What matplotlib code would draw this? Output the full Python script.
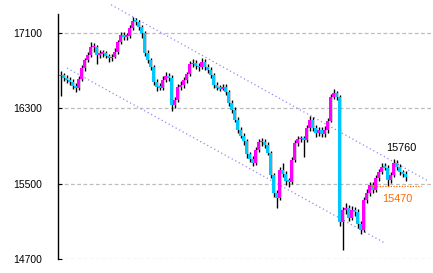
import matplotlib
matplotlib.use("Agg")
import matplotlib.pyplot as plt
import numpy as np

# ---- data ----
opens = [16640,16650,16620,16600,16580,16540,16520,16610,16730,16810,
         16870,16950,16950,16870,16880,16890,16860,16830,16850,16900,
         17000,17080,17060,17070,17150,17230,17220,17160,17100,16890,
         16810,16740,16580,16530,16520,16600,16640,16620,16340,16390,
         16530,16550,16600,16660,16770,16780,16750,16740,16790,16740,
         16710,16650,16550,16520,16510,16530,16470,16360,16280,16180,
         16070,16010,15950,15810,15760,15720,15860,15940,15940,15910,
         15830,15590,15400,15350,15640,15600,15530,15520,15750,15930,
         15970,15980,15960,16090,16180,16090,16040,16070,16030,16070,
         16170,16420,16460,16420,15090,15220,15240,15140,15220,15200,
         15070,15010,15330,15400,15490,15430,15560,15620,15680,15670,
         15540,15590,15720,15680,15620,15600]
closes = [16650,16620,16600,16580,16540,16520,16610,16730,16810,16870,
          16950,16950,16870,16880,16890,16860,16830,16850,16900,17000,
          17080,17060,17070,17150,17230,17220,17160,17100,16890,16810,
          16740,16580,16530,16520,16600,16640,16620,16340,16390,16530,
          16550,16600,16660,16770,16780,16750,16740,16790,16740,16710,
          16650,16550,16520,16510,16530,16470,16360,16280,16180,16070,
          16010,15950,15810,15760,15720,15860,15940,15940,15910,15830,
          15590,15400,15350,15640,15600,15530,15520,15750,15930,15970,
          15980,15960,16090,16180,16090,16040,16070,16030,16070,16170,
          16420,16460,16420,15090,15220,15240,15140,15220,15200,15070,
          15010,15330,15400,15490,15430,15560,15620,15680,15670,15540,
          15590,15720,15680,15620,15600,15570]
highs = [16700,16680,16650,16630,16610,16570,16640,16760,16840,16900,
         17000,16990,16970,16920,16920,16910,16880,16880,16940,17030,
         17110,17110,17100,17180,17270,17260,17240,17180,17120,16920,
         16840,16760,16610,16570,16640,16690,16680,16650,16420,16560,
         16590,16630,16690,16800,16820,16810,16780,16830,16820,16770,
         16740,16680,16580,16550,16560,16560,16490,16390,16310,16210,
         16100,16040,15970,15840,15790,15890,15970,15980,15970,15940,
         15850,15610,15430,15680,15720,15630,15560,15780,15960,16010,
         16010,16010,16120,16220,16210,16120,16100,16100,16110,16200,
         16450,16510,16480,16440,15250,15290,15270,15260,15250,15230,
         15100,15360,15440,15520,15520,15590,15660,15720,15720,15700,
         15620,15760,15750,15710,15650,15630]
lows = [16430,16590,16570,16550,16510,16470,16500,16590,16700,16790,
        16850,16900,16770,16840,16850,16830,16790,16800,16830,16880,
        16980,17030,17030,17050,17130,17190,17130,17050,16860,16780,
        16710,16550,16480,16490,16500,16580,16590,16270,16300,16370,
        16500,16520,16570,16640,16740,16720,16700,16720,16710,16680,
        16620,16520,16490,16480,16490,16440,16330,16250,16150,16040,
        15980,15910,15770,15730,15690,15700,15840,15900,15880,15800,
        15560,15360,15240,15330,15570,15490,15460,15500,15730,15900,
        15940,15780,15940,16060,16060,16000,16010,16000,16000,16040,
        16150,16400,16390,15050,14800,15180,15100,15110,15160,15030,
        14970,14990,15300,15370,15400,15410,15530,15600,15640,15470,
        15510,15570,15650,15590,15570,15530]

yticks = [14700, 15500, 16300, 17100]
ytick_labels = ["14700", "15500", "16300", "17100"]

# trend channel (candle index, price)
upper_x = [17.0, 122.6]
upper_y = [17400, 15530]
lower_x = [2.3, 108.3]
lower_y = [16728, 14869]

high_label = "15760"
low_label = "15470"
low_level = 15470

# ---- figure ----
W, H = 433, 273
fig = plt.figure(figsize=(W / 100, H / 100), dpi=100)
ax = fig.add_axes([58 / W, (H - 259) / H, 375 / W, 245 / H])

n = len(closes)
x = np.arange(n)
o = np.array(opens); c = np.array(closes)
hi = np.array(highs); lo = np.array(lows)

ax.vlines(x + 0.3, lo, hi, color="black", lw=1.0, zorder=2)
up = c >= o
bottom = np.minimum(o, c)
height = np.maximum(np.abs(c - o), 15)
cols = np.where(up, "#ff00ff", "#00c8ff")
ax.bar(x, height, bottom=bottom, width=0.95, color=cols, linewidth=0, zorder=3)

ax.plot(upper_x, upper_y, color="#8c8cf0", lw=0.9, linestyle=(0, (1, 2.2)),
        clip_on=False, zorder=1)
ax.plot(lower_x, lower_y, color="#8c8cf0", lw=0.9, linestyle=(0, (1, 2.2)),
        clip_on=False, zorder=1)

ax.plot([103.5, 120.3], [low_level, low_level], color="#ff6600", lw=0.9,
        linestyle=(0, (1, 1.2)), zorder=4)

ax.text(113.6, 15878, high_label, color="black", fontsize=7.8,
        family="Liberation Sans", ha="center", va="center")
ax.text(112.3, 15336, low_label, color="#ff6600", fontsize=7.8,
        family="Liberation Sans", ha="center", va="center")

ax.set_xlim(-0.7, -0.7 + 375 / 3)
ax.set_ylim(14700, 17302)
ax.set_yticks(yticks)
ax.set_yticklabels(ytick_labels, family="Liberation Sans", fontsize=7.5)
ax.set_xticks([])
ax.tick_params(axis="y", direction="in", length=3, width=0.8, pad=11.5,
               colors="black")
ax.yaxis.grid(True, linestyle=(0, (3, 2)), color="#bdbdbd", lw=0.9)
ax.set_axisbelow(True)
for s in ["top", "right", "bottom"]:
    ax.spines[s].set_visible(False)
ax.spines["left"].set_linewidth(1.0)
ax.spines["left"].set_color("black")

fig.savefig("out.png", dpi=100)
